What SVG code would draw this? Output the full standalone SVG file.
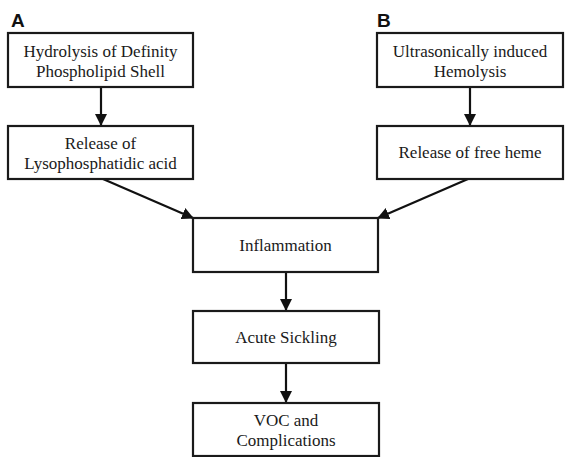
<svg xmlns="http://www.w3.org/2000/svg" width="565" height="457" viewBox="0 0 565 457">
<style>
.box{fill:#fff;stroke:#1a1a1a;stroke-width:2.2}
.t{font-family:'Liberation Serif','DejaVu Serif',serif;font-size:17px;fill:#1a1a1a;text-anchor:middle}
.lbl{font-family:'Liberation Sans',Arial,sans-serif;font-size:19px;font-weight:bold;fill:#111}
.c{stroke:#111;stroke-width:2.2;fill:none}
</style>
<defs>
<marker id="ah" markerWidth="12" markerHeight="12" viewBox="0 0 12 12" refX="11" refY="6" orient="auto" markerUnits="userSpaceOnUse">
<path d="M0,0 L12,6 L0,12 Z" fill="#111"/>
</marker>
</defs>
<rect width="565" height="457" fill="#fff"/>
<text class="lbl" x="11" y="27">A</text>
<text class="lbl" x="377" y="27">B</text>
<g id="connectors">
<line class="c" x1="101" y1="87" x2="101" y2="125" marker-end="url(#ah)"/>
<line class="c" x1="470" y1="87" x2="470" y2="125" marker-end="url(#ah)"/>
<line class="c" x1="103" y1="179" x2="193" y2="218" marker-end="url(#ah)"/>
<line class="c" x1="468" y1="179" x2="378" y2="218" marker-end="url(#ah)"/>
<line class="c" x1="286" y1="272" x2="286" y2="310" marker-end="url(#ah)"/>
<line class="c" x1="286" y1="363" x2="286" y2="402" marker-end="url(#ah)"/>
</g>
<g id="hydrolysis">
<rect class="box" x="8" y="33" width="185" height="54"/>
<text class="t" x="100.5" y="57" font-family="Liberation Serif, serif">Hydrolysis of Definity</text>
<text class="t" x="100.5" y="77" font-family="Liberation Serif, serif">Phospholipid Shell</text>
</g>
<g id="ultrasonic">
<rect class="box" x="377" y="33" width="186" height="54"/>
<text class="t" x="470" y="57">Ultrasonically induced</text>
<text class="t" x="470" y="77">Hemolysis</text>
</g>
<g id="lpa">
<rect class="box" x="8" y="126" width="185" height="53"/>
<text class="t" x="100.5" y="149">Release of</text>
<text class="t" x="100.5" y="169">Lysophosphatidic acid</text>
</g>
<g id="heme">
<rect class="box" x="377" y="126" width="186" height="53"/>
<text class="t" x="470" y="158">Release of free heme</text>
</g>
<g id="inflammation">
<rect class="box" x="193" y="218" width="185" height="54"/>
<text class="t" x="285.5" y="251">Inflammation</text>
</g>
<g id="sickling">
<rect class="box" x="193" y="311" width="186" height="52"/>
<text class="t" x="286" y="343">Acute Sickling</text>
</g>
<g id="voc">
<rect class="box" x="193" y="403" width="186" height="53"/>
<text class="t" x="286" y="426">VOC and</text>
<text class="t" x="286" y="446">Complications</text>
</g>
</svg>
